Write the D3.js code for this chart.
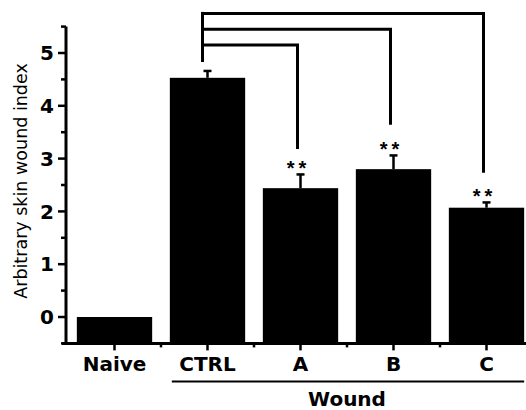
<!DOCTYPE html>
<html>
<head>
<meta charset="utf-8">
<script src="https://cdn.jsdelivr.net/npm/d3@7"></script>
<style>
  body { margin: 0; background: #fff; }
  svg { display: block; }
</style>
</head>
<body>
<svg id="chart" width="526" height="410"></svg>
<script>
// data
const categories = ["Naive", "CTRL", "A", "B", "C"];
const means = [0, 4.53, 2.44, 2.80, 2.07];
const errors = [0, 0.13, 0.26, 0.26, 0.10];
const yTicks = [0, 1, 2, 3, 4, 5];
const groupName = "Wound";
const groupMembers = ["CTRL", "A", "B", "C"];

// significance brackets: CTRL vs each, bracket level and drop end (in data units)
const compTargets = ["A", "B", "C"];
const compLevels = [5.15, 5.45, 5.75];
const compEnds = [3.18, 3.64, 2.73];
const compLabels = ["**", "**", "**"];

const svg = d3.select("#chart");

const y = d3.scaleLinear().domain([-0.5, 5.5]).range([343.4, 26.6]);
const x = d3.scaleBand()
    .domain(categories)
    .range([68, 533])
    .paddingInner(0.19)
    .paddingOuter(0.095);

const bw = x.bandwidth();
const cx = c => x(c) + bw / 2;
const FONT_BOLD = "'DejaVu Sans', sans-serif";

// bars, all drawn from the bottom of the axis
svg.append("g").selectAll("rect")
    .data(categories)
    .enter().append("rect")
    .attr("x", d => x(d))
    .attr("width", bw)
    .attr("y", (d, i) => y(means[i]))
    .attr("height", (d, i) => y(-0.5) - y(means[i]))
    .attr("fill", "#000");

// error bars (upper only)
const eb = svg.append("g").attr("stroke", "#000").attr("stroke-width", 2.5);
categories.forEach((c, i) => {
    if (!errors[i]) return;
    eb.append("line")
        .attr("x1", cx(c)).attr("x2", cx(c))
        .attr("y1", y(means[i])).attr("y2", y(means[i] + errors[i]));
    eb.append("line")
        .attr("x1", cx(c) - 4).attr("x2", cx(c) + 4)
        .attr("y1", y(means[i] + errors[i])).attr("y2", y(means[i] + errors[i]));
});

// y axis
const yAxis = svg.append("g").attr("transform", "translate(66,0)");
yAxis.append("line")
    .attr("x1", 0).attr("x2", 0)
    .attr("y1", y(5.5)).attr("y2", y(-0.5) + 1.5)
    .attr("stroke", "#000").attr("stroke-width", 3);
yAxis.selectAll(".minor")
    .data(d3.range(-0.5, 5.6, 1))
    .enter().append("line")
    .attr("x1", -5).attr("x2", 0)
    .attr("y1", d => y(d)).attr("y2", d => y(d))
    .attr("stroke", "#000").attr("stroke-width", 2.5);
yAxis.selectAll(".major")
    .data(yTicks)
    .enter().append("line")
    .attr("x1", -8).attr("x2", 0)
    .attr("y1", d => y(d)).attr("y2", d => y(d))
    .attr("stroke", "#000").attr("stroke-width", 2.5);
yAxis.selectAll("text")
    .data(yTicks)
    .enter().append("text")
    .attr("x", -12)
    .attr("y", d => y(d))
    .attr("dy", "0.36em")
    .attr("text-anchor", "end")
    .style("font-family", FONT_BOLD)
    .style("font-weight", "bold")
    .style("font-size", "20px")
    .text(d => d);

svg.append("text")
    .attr("transform", `translate(27,${181}) rotate(-90)`)
    .attr("text-anchor", "middle")
    .style("font-family", "'DejaVu Sans', sans-serif")
    .style("font-size", "17.5px")
    .text("Arbitrary skin wound index");

// x axis
const xAxis = svg.append("g").attr("transform", `translate(0,${y(-0.5)})`);
xAxis.append("line")
    .attr("x1", 62).attr("x2", 526)
    .attr("y1", 0).attr("y2", 0)
    .attr("stroke", "#000").attr("stroke-width", 3);
xAxis.selectAll(".major")
    .data(categories)
    .enter().append("line")
    .attr("x1", d => cx(d)).attr("x2", d => cx(d))
    .attr("y1", 0).attr("y2", 7)
    .attr("stroke", "#000").attr("stroke-width", 2.5);
xAxis.selectAll(".minor")
    .data(categories.slice(1))
    .enter().append("line")
    .attr("x1", d => x(d) - x.step() * x.paddingInner() / 2)
    .attr("x2", d => x(d) - x.step() * x.paddingInner() / 2)
    .attr("y1", 0).attr("y2", 4)
    .attr("stroke", "#000").attr("stroke-width", 2.5);
xAxis.selectAll("text")
    .data(categories)
    .enter().append("text")
    .attr("x", d => cx(d))
    .attr("y", 28)
    .attr("text-anchor", "middle")
    .style("font-family", FONT_BOLD)
    .style("font-weight", "bold")
    .style("font-size", "20px")
    .text(d => d);

// group underline + label
const gx0 = x(groupMembers[0]);
const gx1 = x(groupMembers[groupMembers.length - 1]) + bw;
svg.append("line")
    .attr("x1", gx0 + 2).attr("x2", gx1)
    .attr("y1", 381.5).attr("y2", 381.5)
    .attr("stroke", "#000").attr("stroke-width", 2);
svg.append("text")
    .attr("x", (gx0 + gx1) / 2)
    .attr("y", 406)
    .attr("text-anchor", "middle")
    .style("font-family", FONT_BOLD)
    .style("font-weight", "bold")
    .style("font-size", "20px")
    .text(groupName);

// significance brackets
const br = svg.append("g")
    .attr("fill", "none")
    .attr("stroke", "#000")
    .attr("stroke-width", 3);
const startX = cx("CTRL") - 5;
br.append("line")
    .attr("x1", startX).attr("x2", startX)
    .attr("y1", y(4.83)).attr("y2", y(d3.max(compLevels)) - 1.5);
compTargets.forEach((t, i) => {
    const ex = cx(t) - 3;
    br.append("path")
        .attr("d", d3.line()([[startX, y(compLevels[i])], [ex, y(compLevels[i])], [ex, y(compEnds[i])]]));
});

// asterisks above error bars
svg.append("g").selectAll("text")
    .data(compTargets)
    .enter().append("text")
    .attr("x", d => cx(d) - 2)
    .attr("y", d => {
        const i = categories.indexOf(d);
        return y(means[i] + errors[i]) + 1;
    })
    .attr("text-anchor", "middle")
    .style("font-family", "'Liberation Sans', Arial, sans-serif")
    .style("font-weight", "bold")
    .style("font-size", "20px")
    .style("letter-spacing", "4px")
    .text((d, i) => compLabels[i]);
</script>
</body>
</html>
